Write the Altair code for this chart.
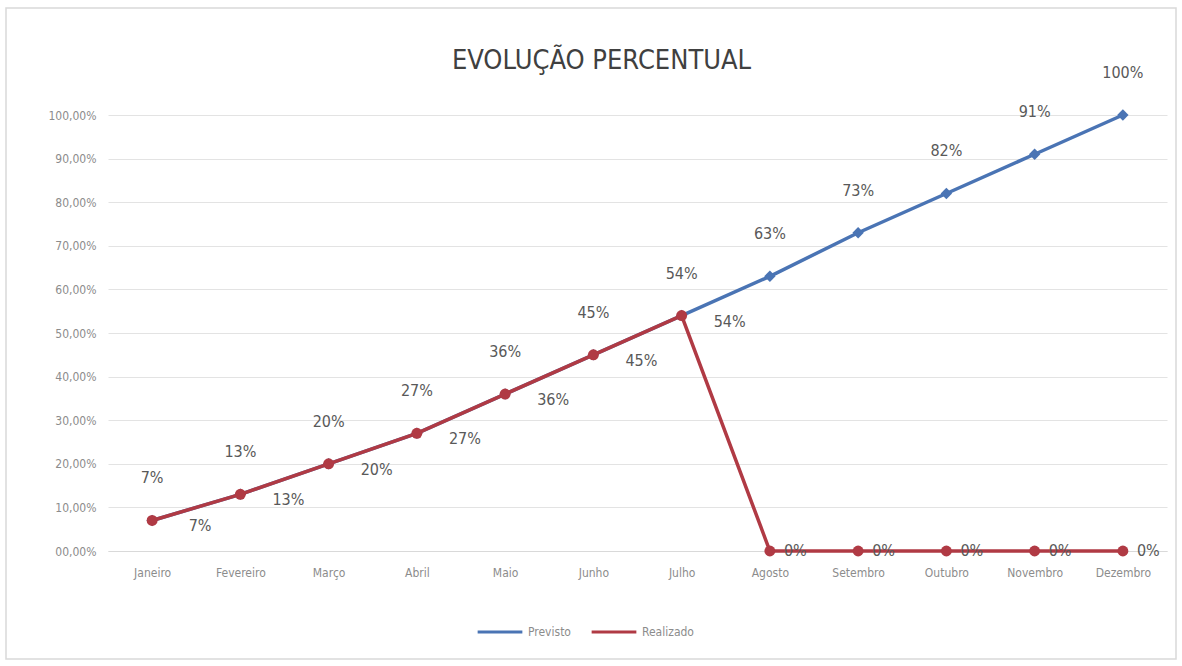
import altair as alt
import pandas as pd

meses = ["Janeiro", "Fevereiro", "Março", "Abril", "Maio", "Junho",
         "Julho", "Agosto", "Setembro", "Outubro", "Novembro", "Dezembro"]
previsto = [0.07, 0.13, 0.20, 0.27, 0.36, 0.45, 0.54, 0.63, 0.73, 0.82, 0.91, 1.00]
realizado = [0.07, 0.13, 0.20, 0.27, 0.36, 0.45, 0.54, 0.0, 0.0, 0.0, 0.0, 0.0]
series = ["Previsto", "Realizado"]
cores = ["#4a74b4", "#b03a44"]

df = pd.DataFrame(
    [{"Mês": m, "Série": "Previsto", "Valor": v} for m, v in zip(meses, previsto)]
    + [{"Mês": m, "Série": "Realizado", "Valor": v} for m, v in zip(meses, realizado)]
)

FONT = "Liberation Sans Narrow, Arial Narrow, DejaVu Sans Condensed, sans-serif"

x = alt.X("Mês:N", sort=meses, title=None,
          scale=alt.Scale(paddingInner=0, paddingOuter=0.5),
          axis=alt.Axis(labelAngle=0, ticks=False, labelPadding=16, labelFontSize=12,
                        labelColor="#8c8c8c", labelFont=FONT, domainColor="#d9d9d9",
                        grid=False))
y = alt.Y("Valor:Q", title=None,
          scale=alt.Scale(domain=[0, 1], nice=False),
          axis=alt.Axis(values=[i / 10 for i in range(11)], ticks=False, domain=False,
                        labelPadding=12, labelFontSize=12, labelColor="#8c8c8c", labelFont=FONT,
                        gridColor="#e3e3e3", gridWidth=1,
                        labelExpr="(datum.value < 0.1 ? '0' : '') + replace(format(datum.value, '.2%'), '.', ',')"))
color = alt.Color("Série:N", scale=alt.Scale(domain=series, range=cores),
                  legend=alt.Legend(title=None, orient="none", direction="horizontal",
                                    legendX=368, legendY=493, symbolType="stroke",
                                    symbolStrokeWidth=3, symbolSize=2000, labelFontSize=12,
                                    labelColor="#8c8c8c", labelFont=FONT, columnPadding=14,
                                    labelOffset=4))

base = alt.Chart(df).encode(x=x, y=y, color=color)

prev = base.transform_filter("datum['Série'] == 'Previsto'")
real = base.transform_filter("datum['Série'] == 'Realizado'")

prev_line = prev.mark_line(strokeWidth=3.5)
prev_pts = prev.mark_point(shape="diamond", filled=True, size=130, opacity=1)
real_line = real.mark_line(strokeWidth=3.5)
real_pts = real.mark_point(shape="circle", filled=True, size=120, opacity=1)

txt = dict(fontSize=16, font=FONT, color="#595959")
prev_lbl = prev.mark_text(dy=-42, **txt).encode(
    text=alt.Text("Valor:Q", format=".0%"), color=alt.value("#595959"))
real_lbl_pos = real.transform_filter("datum.Valor > 0").mark_text(dx=48, dy=6, **txt).encode(
    text=alt.Text("Valor:Q", format=".0%"), color=alt.value("#595959"))
real_lbl_zero = real.transform_filter("datum.Valor == 0").mark_text(dx=14, align="left", **txt).encode(
    text=alt.Text("Valor:Q", format=".0%"), color=alt.value("#595959"))

# light frame around the whole chart area (style only)
frame = alt.Chart(pd.DataFrame({"f": [0]})).mark_rect(
    fill=None, stroke="#d9d9d9", strokeWidth=1.5
).encode(x=alt.value(-102), x2=alt.value(1068), y=alt.value(-107), y2=alt.value(544))

chart = alt.layer(frame, prev_line, prev_pts, real_line, real_pts, prev_lbl, real_lbl_pos, real_lbl_zero).properties(
    width=1059, height=436,
    padding={"left": 108, "top": 115, "right": 15, "bottom": 115},
    autosize=alt.AutoSizeParams(type="none"),
    background="white",
    title=alt.TitleParams("EVOLUÇÃO PERCENTUAL", fontSize=27, font=FONT, color="#404040",
                          fontWeight="normal", anchor="middle", dx=-36, offset=0, dy=68),
).configure_view(stroke=None)

chart.save("out.html", embed_options={"renderer": "svg", "actions": False})
